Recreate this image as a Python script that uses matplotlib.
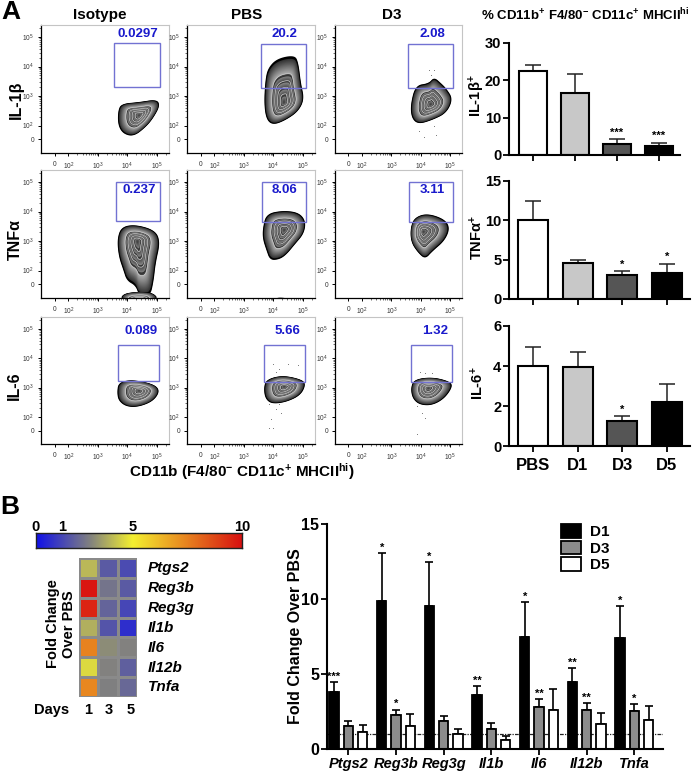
import matplotlib
matplotlib.use("Agg")
import matplotlib.pyplot as plt
import numpy as np
from matplotlib.colors import LinearSegmentedColormap
from matplotlib.patches import Polygon, Rectangle

plt.rcParams['font.family'] = ['Liberation Sans', 'DejaVu Sans']
plt.rcParams['mathtext.fontset'] = 'custom'
plt.rcParams['mathtext.rm'] = 'Liberation Sans'
plt.rcParams['mathtext.bf'] = 'Liberation Sans:bold'
plt.rcParams['mathtext.it'] = 'Liberation Sans:italic'

W, H = 692, 774

# facs panels, outlines are in decades (log10 of the fluorescence)
col_names = ["Isotype", "PBS", "D3"]
row_names = ["IL-1β", "TNFα", "IL-6"]
gate_labels = [["0.0297", "20.2", "2.08"], ["0.237", "8.06", "3.11"], ["0.089", "5.66", "1.32"]]
gates = [
    [(3.56, 5.10, 3.30, 4.80), (3.57, 5.10, 3.29, 4.76), (3.58, 5.11, 3.29, 4.76)],
    [(3.60, 5.11, 3.67, 5.00), (3.61, 5.11, 3.64, 5.01), (3.60, 5.10, 3.64, 5.01)],
    [(3.67, 5.06, 3.21, 4.46), (3.68, 5.07, 3.19, 4.47), (3.68, 5.08, 3.19, 4.47)],
]
blob_il1b_iso = [(3.72, 2.49), (3.83, 2.72), (4.40, 2.77), (4.96, 2.86), (5.07, 2.66), (4.85, 2.26), (4.62, 1.98), (4.23, 1.67), (3.89, 1.75), (3.72, 2.03)]
blob_il1b_pbs = [(3.76, 3.5), (3.85, 3.89), (4.14, 4.19), (4.70, 4.30), (4.82, 4.06), (4.90, 3.39), (5.01, 2.89), (4.82, 2.5), (4.42, 2.22), (4.02, 2.06), (3.80, 2.22), (3.72, 2.72)]
blob_il1b_d3 = [(3.69, 2.72), (3.85, 3.33), (4.28, 3.39), (4.45, 3.59), (4.68, 3.39), (4.85, 3.22), (5.06, 2.89), (4.85, 2.44), (4.40, 2.22), (3.94, 2.08), (3.72, 2.28)]
blob_tnf_iso = [(3.69, 3.07), (3.83, 3.46), (4.29, 3.53), (4.92, 3.34), (5.07, 2.96), (4.92, 2.29), (4.86, 1.73), (4.75, 1.23), (4.40, 1.23), (4.29, 1.57), (4.0, 1.73), (3.89, 2.07), (3.74, 2.51)]
blob_tnf_pbs = [(3.68, 3.43), (3.79, 3.89), (4.31, 4.0), (4.83, 3.94), (5.06, 3.66), (5.0, 3.26), (4.71, 2.92), (4.43, 2.58), (4.2, 2.43), (3.91, 2.41), (3.79, 2.75), (3.68, 3.09)]
blob_tnf_d3 = [(3.67, 3.43), (3.8, 3.77), (4.21, 3.91), (4.78, 3.72), (4.95, 3.43), (4.78, 3.03), (4.38, 2.69), (4.15, 2.44), (3.92, 2.64), (3.69, 2.98)]
blob_il6_iso = [(3.69, 2.84), (3.74, 3.16), (4.17, 3.25), (4.86, 3.11), (5.07, 2.89), (4.86, 2.56), (4.40, 2.37), (4.0, 2.37), (3.74, 2.56)]
blob_il6_pbs = [(3.71, 2.98), (3.79, 3.26), (4.31, 3.4), (4.94, 3.26), (5.06, 3.09), (4.89, 2.75), (4.43, 2.53), (3.97, 2.47), (3.76, 2.64)]
blob_il6_d3 = [(3.69, 2.98), (3.8, 3.26), (4.38, 3.34), (4.95, 3.2), (5.05, 3.03), (4.78, 2.64), (4.38, 2.42), (3.98, 2.44), (3.75, 2.64)]
blobs = [[blob_il1b_iso, blob_il1b_pbs, blob_il1b_d3], [blob_tnf_iso, blob_tnf_pbs, blob_tnf_d3], [blob_il6_iso, blob_il6_pbs, blob_il6_d3]]
centers = [[(4.4, 2.35), (4.36, 2.78), (4.34, 2.72)], [(4.34, 3.0), (4.37, 3.38), (4.09, 3.32)], [(4.4, 2.89), (4.37, 3.03), (4.26, 2.98)]]
foot_tnf_iso = [(3.79, 1.0), (3.89, 1.21), (4.4, 1.27), (4.86, 1.23), (5.03, 1.0)]
foot_tnf_pbs = [(4.02, 1.0), (4.14, 1.09), (4.43, 1.07), (4.54, 1.0)]
dots_il1b_d3 = [(4.28, 3.89), (4.45, 3.89), (4.34, 3.72), (3.94, 1.83), (4.11, 1.61), (4.51, 1.67), (4.45, 1.97)]
dots_il6_pbs = [(3.97, 3.82), (4.2, 3.65), (4.48, 3.82), (4.83, 3.76), (5.06, 3.43), (4.08, 3.54), (3.85, 2.42), (4.08, 2.25), (4.25, 2.13), (3.91, 1.91), (3.97, 1.63), (3.85, 1.61), (4.2, 2.42)]
dots_il6_d3 = [(3.98, 3.54), (4.15, 3.48), (4.38, 3.48), (3.86, 2.36), (4.03, 2.13), (4.15, 1.97), (3.86, 1.4)]

# summary bars panel A
groups_a = ["PBS", "D1", "D3", "D5"]
colors_a = ["white", "#c8c8c8", "#555555", "black"]
il1b_mean = [22.5, 16.5, 3.0, 2.5]
il1b_top = [24.2, 21.8, 4.2, 3.3]
il1b_star = ["", "", "***", "***"]
tnf_mean = [10.0, 4.6, 3.0, 3.35]
tnf_top = [12.5, 4.95, 3.5, 4.5]
tnf_star = ["", "", "*", "*"]
il6_mean = [4.0, 3.93, 1.25, 2.2]
il6_top = [4.95, 4.68, 1.5, 3.1]
il6_star = ["", "", "*", ""]

# panel B
genes = ["Ptgs2", "Reg3b", "Reg3g", "Il1b", "Il6", "Il12b", "Tnfa"]
d1_mean = [3.8, 9.87, 9.53, 3.59, 7.46, 4.5, 7.37]
d1_top = [4.45, 13.07, 12.45, 4.19, 9.8, 5.39, 9.55]
d1_star = ["***", "*", "*", "**", "*", "**", "*"]
d3_mean = [1.56, 2.25, 1.85, 1.36, 2.83, 2.58, 2.54]
d3_top = [1.87, 2.63, 2.2, 1.76, 3.32, 3.05, 3.0]
d3_star = ["", "*", "", "", "**", "**", "*"]
d5_mean = [1.14, 1.56, 1.02, 0.58, 2.58, 1.69, 1.92]
d5_top = [1.58, 2.34, 1.36, 0.85, 3.99, 2.43, 2.85]
days = ["1", "3", "5"]
cbar_ticks = [0, 1, 5, 10]


def px_axes(fig, left, top, right, bottom):
    return fig.add_axes([left / W, 1 - bottom / H, (right - left) / W, (bottom - top) / H])


def px_text(fig, x, y, s, **kw):
    kw.setdefault('ha', 'center')
    kw.setdefault('va', 'center')
    kw.setdefault('fontweight', 'bold')
    fig.text(x / W, 1 - y / H, s, **kw)


def smooth(pts, n=4):
    p = np.array(pts, dtype=float)
    for _ in range(n):
        q = np.roll(p, -1, axis=0)
        p = np.column_stack([0.75 * p + 0.25 * q, 0.25 * p + 0.75 * q]).reshape(-1, 2)
    return p


def shade(t):
    # zebra look: black rim, then grey ramp, dark core
    if t > 1.0:
        return "0"
    if t > 0.66:
        v = 0.2 + (1.0 - t) / 0.34 * 0.5
    else:
        band = (t * 6.5) % 1
        v = 0.18 + 0.34 * band
    return str(round(v, 3))


def draw_blob(ax, pts, c):
    p = smooth(pts)
    c = np.array(c)
    for t in np.linspace(1.06, 0.04, 52):
        ax.add_patch(Polygon(c + (p - c) * t, closed=True, fc=shade(t), ec='none', zorder=2))
    for t in [0.66, 0.5, 0.35, 0.2]:
        ax.add_patch(Polygon(c + (p - c) * t, closed=True, fc='none', ec='#dddddd', lw=0.45, zorder=3))


def facs_axes(ax):
    ax.set_xlim(1.07, 5.41)
    ax.set_ylim(1.07, 5.41)
    major = [1.53, 2, 3, 4, 5]
    labels = ["0", r"$\mathregular{10^{2}}$", r"$\mathregular{10^{3}}$", r"$\mathregular{10^{4}}$", r"$\mathregular{10^{5}}$"]
    minor = [d + np.log10(k) for d in [2, 3, 4] for k in range(2, 10)] + [5.3]
    for axis in (ax.xaxis, ax.yaxis):
        axis.set_ticks(major)
        axis.set_ticklabels(labels)
        axis.set_ticks(minor, minor=True)
    ax.tick_params(which='major', length=2.5, width=0.7, labelsize=4.8, labelcolor='#333333', pad=2.5)
    ax.tick_params(axis='x', which='major', pad=3)
    ax.tick_params(which='minor', length=1.2, width=0.4)
    for s in ('top', 'right'):
        ax.spines[s].set_color('#c4c4c4')
    for s in ('left', 'bottom'):
        ax.spines[s].set_linewidth(0.9)


def bar_axes(ax, ymax, step, size=11.5):
    ax.set_ylim(0, ymax)
    ax.set_yticks(np.arange(0, ymax + 0.1, step))
    for s in ('top', 'right'):
        ax.spines[s].set_visible(False)
    for s in ('left', 'bottom'):
        ax.spines[s].set_linewidth(1.5)
    ax.tick_params(length=4, width=1.3, labelsize=size, pad=1.5)
    for lab in ax.get_yticklabels():
        lab.set_fontweight('bold')


def summary_bars(ax, mean, top, stars, ymax, step, xlim, show_x=False):
    x = np.arange(len(mean))
    ax.bar(x, mean, width=0.67, color=colors_a, edgecolor='black', linewidth=1.5, zorder=2)
    up = np.array(top) - np.array(mean)
    ax.errorbar(x, mean, yerr=[np.zeros(len(up)), up], fmt='none', ecolor='#222222', elinewidth=1.1, capsize=5.5, capthick=1.1, zorder=1)
    for i, s in enumerate(stars):
        if s:
            ax.text(i, top[i] + ymax * 0.012, s, ha='center', va='bottom', fontsize=8, fontweight='bold')
    ax.set_xlim(*xlim)
    ax.set_xticks(x)
    ax.set_xticklabels(groups_a if show_x else [])
    bar_axes(ax, ymax, step, size=10.5)
    if show_x:
        ax.tick_params(axis='x', labelsize=12, pad=5)
        for lab in ax.get_xticklabels():
            lab.set_fontweight('bold')


fig = plt.figure(figsize=(W / 100, H / 100), dpi=100)

# panel A facs grid
col_px = [(41, 169), (187, 315), (335, 462)]
row_px = [(25, 153), (170, 298), (317, 444)]
label_px = [[(138, 34), (284, 34), (432, 34)], [(139, 190), (285, 190), (432, 190)], [(141, 331), (287, 331), (435, 331)]]
for r in range(3):
    for c in range(3):
        ax = px_axes(fig, col_px[c][0], row_px[r][0], col_px[c][1], row_px[r][1])
        facs_axes(ax)
        draw_blob(ax, blobs[r][c], centers[r][c])
        x0, x1, y0, y1 = gates[r][c]
        ax.add_patch(Rectangle((x0, y0), x1 - x0, y1 - y0, fc='none', ec='#7272d2', lw=1.0, zorder=4))
        px_text(fig, label_px[r][c][0], label_px[r][c][1], gate_labels[r][c], color='#1a1acc', fontsize=9.5)
        if (r, c) == (1, 0):
            draw_blob(ax, foot_tnf_iso, (4.4, 1.0))
        if (r, c) == (1, 1):
            ax.add_patch(Polygon(smooth(foot_tnf_pbs), closed=True, fc='black', ec='none', zorder=2))
        extra = {(0, 2): dots_il1b_d3, (2, 1): dots_il6_pbs, (2, 2): dots_il6_d3}.get((r, c))
        if extra:
            ax.scatter(*zip(*extra), s=0.5, c='#777777', linewidths=0, zorder=1)

for x, name in zip([100, 247, 392], col_names):
    px_text(fig, x, 15, name, fontsize=11)
px_text(fig, 16, 100, row_names[0], fontsize=11.5, rotation=90)
px_text(fig, 15, 240, row_names[1], fontsize=11.5, rotation=90)
px_text(fig, 14, 386, row_names[2], fontsize=11.5, rotation=90)
px_text(fig, 242, 472, r"CD11b (F4/80$^{\mathbf{-}}$ CD11c$^{\mathbf{+}}$ MHCII$^{\mathbf{hi}}$)", fontsize=11)
px_text(fig, 11, 12, "A", fontsize=19)
px_text(fig, 10, 507, "B", fontsize=19)
px_text(fig, 585, 15, r"% CD11b$^{\mathbf{+}}$ F4/80$^{\mathbf{-}}$ CD11c$^{\mathbf{+}}$ MHCII$^{\mathbf{hi}}$", fontsize=9.5)

# panel A bars
ax = px_axes(fig, 509, 43, 680, 155)
summary_bars(ax, il1b_mean, il1b_top, il1b_star, 30, 10, (-0.571, 3.5))
ax = px_axes(fig, 509, 181, 690, 299)
summary_bars(ax, tnf_mean, tnf_top, tnf_star, 15, 5, (-0.54, 3.52))
ax = px_axes(fig, 509, 326, 690, 446)
summary_bars(ax, il6_mean, il6_top, il6_star, 6, 2, (-0.54, 3.52), show_x=True)
px_text(fig, 477, 96, r"IL-1β$^{\mathbf{+}}$", fontsize=10.5, rotation=90)
px_text(fig, 477, 237, r"TNFα$^{\mathbf{+}}$", fontsize=10.5, rotation=90)
px_text(fig, 478, 383, r"IL-6$^{\mathbf{+}}$", fontsize=10.5, rotation=90)

# panel B colour scale + heatmap
cmap = LinearSegmentedColormap.from_list("fold", [(0, "#1010e8"), (0.26, "#808080"), (0.47, "#f4f030"), (0.72, "#e88820"), (1, "#d81010")])
scale_vals = [0, 1, 5, 10]
scale_pos = [0, 0.126, 0.47, 1]

ax = px_axes(fig, 36, 533, 242, 548)
ax.imshow(np.linspace(0, 1, 256).reshape(1, -1), cmap=cmap, aspect='auto', vmin=0, vmax=1, extent=(0, 1, 0, 1))
ax.set_xticks([])
ax.set_yticks([])
for s in ax.spines.values():
    s.set_linewidth(1.0)
    s.set_color('#222222')
for v, p in zip(cbar_ticks, scale_pos):
    px_text(fig, 36 + 206 * p, 527, str(v), fontsize=10.5)

heat = np.interp(np.array([d1_mean, d3_mean, d5_mean]).T, scale_vals, scale_pos)
ax = px_axes(fig, 79, 558, 137, 697)
ax.pcolormesh(heat[::-1], cmap=cmap, vmin=0, vmax=1, edgecolors='#8a8a8a', linewidth=0.8)
ax.axis('off')
for i, g in enumerate(genes):
    px_text(fig, 148, 568 + 19.9 * i, g, fontsize=11, ha='left', fontstyle='italic')
px_text(fig, 52, 710, "Days", fontsize=10.5)
for x, d in zip([88, 109, 131], days):
    px_text(fig, x, 710, d, fontsize=10.5)
px_text(fig, 61, 624, "Fold Change\nOver PBS", fontsize=10.5, rotation=90, linespacing=1.1)

# panel B bars
ax = px_axes(fig, 327, 524, 663, 749)
x = np.arange(len(genes))
series = [("D1", d1_mean, d1_top, d1_star, "black"), ("D3", d3_mean, d3_top, d3_star, "#8c8c8c"), ("D5", d5_mean, d5_top, [""] * 7, "white")]
ax.axhline(1, color='#222222', lw=0.9, ls=(0, (3, 1, 1, 1)), zorder=0)
for j, (name, mean, top, stars, col) in enumerate(series):
    xx = x + j * 0.3
    ax.bar(xx, mean, width=0.2, color=col, edgecolor='black', linewidth=1.3, label=name, zorder=2)
    up = np.array(top) - np.array(mean)
    ax.errorbar(xx, mean, yerr=[np.zeros(7), up], fmt='none', ecolor='black', elinewidth=1.2, capsize=2.8, capthick=1.2, zorder=1)
    for i, s in enumerate(stars):
        if s:
            ax.text(xx[i], top[i] + 0.02, s, ha='center', va='bottom', fontsize=8, fontweight='bold')
ax.set_xlim(-0.147, 6.9)
ax.set_xticks(x + 0.3)
ax.set_xticklabels(genes, fontstyle='italic', fontweight='bold', fontsize=10.5)
bar_axes(ax, 15, 5)
ax.tick_params(axis='x', labelsize=10.5, pad=2)
ax.set_ylabel("Fold Change Over PBS", fontsize=11.5, fontweight='bold', labelpad=-1)
ax.legend(loc='upper left', bbox_to_anchor=(0.696, 1.0), frameon=False, prop={'size': 11, 'weight': 'bold'},
          handlelength=1.3, handleheight=1.0, labelspacing=0.1, handletextpad=0.6, borderpad=0, borderaxespad=0)

fig.savefig("out.png", dpi=100)
